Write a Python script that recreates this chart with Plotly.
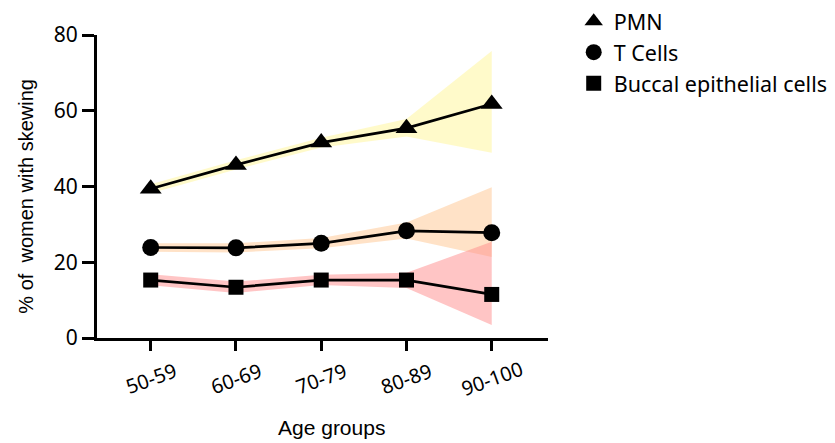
import plotly.graph_objects as go

# Age groups on the x axis
age_groups = ["50-59", "60-69", "70-79", "80-89", "90-100"]

# % of women with skewing, with lower / upper band limits per cell type
pmn = [39.4, 45.7, 51.6, 55.4, 61.8]
pmn_lo = [38.2, 44.5, 50.3, 53.2, 48.9]
pmn_hi = [40.6, 46.9, 52.9, 57.8, 75.8]

t_cells = [23.9, 23.8, 25.0, 28.3, 27.8]
t_cells_lo = [22.8, 22.6, 23.7, 26.3, 21.4]
t_cells_hi = [25.0, 25.0, 26.4, 30.5, 39.8]

buccal = [15.3, 13.4, 15.3, 15.3, 11.5]
buccal_lo = [13.9, 11.9, 14.0, 13.2, 3.4]
buccal_hi = [16.8, 14.9, 16.7, 17.2, 25.4]

y_ticks = [0, 20, 40, 60, 80]

series = [
    ("PMN", pmn, pmn_lo, pmn_hi, "triangle-up", 19, "rgba(255,245,150,0.5)"),
    ("T Cells", t_cells, t_cells_lo, t_cells_hi, "circle", 17, "rgba(255,190,130,0.45)"),
    ("Buccal epithelial cells", buccal, buccal_lo, buccal_hi, "square", 15, "rgba(255,140,140,0.5)"),
]

tick_font = dict(family="Noto Sans", size=21, color="black")
title_font = dict(family="Liberation Sans", size=21, color="black")

fig = go.Figure()

# shaded bands (lower edge, then upper edge filled down to it)
for name, vals, lo, hi, sym, size, band in series:
    fig.add_trace(go.Scatter(x=age_groups, y=lo, mode="lines", line=dict(width=0),
                             showlegend=False, hoverinfo="skip"))
    fig.add_trace(go.Scatter(x=age_groups, y=hi, mode="lines", line=dict(width=0),
                             fill="tonexty", fillcolor=band,
                             showlegend=False, hoverinfo="skip"))

# lines with markers
for i, (name, vals, lo, hi, sym, size, band) in enumerate(series):
    fig.add_trace(go.Scatter(
        x=age_groups, y=vals, name=name, mode="lines+markers",
        line=dict(color="black", width=2.7),
        marker=dict(symbol=sym, size=size, color="black"),
        showlegend=False,
    ))
    # legend entry: marker only
    fig.add_trace(go.Scatter(
        x=[None], y=[None], name=name, mode="markers",
        marker=dict(symbol=sym, size=size, color="black"),
        legendgroup=name, showlegend=True,
    ))

fig.update_xaxes(
    type="category", range=[-0.63, 4.66],
    showline=True, linecolor="black", linewidth=3,
    ticks="outside", ticklen=10, tickwidth=3, tickcolor="black",
    showticklabels=False, showgrid=False, zeroline=False,
)
fig.update_yaxes(
    range=[0, 80], tickvals=y_ticks,
    showline=True, linecolor="black", linewidth=3,
    ticks="outside", ticklen=12, tickwidth=3, tickcolor="black",
    tickfont=tick_font, showgrid=False, zeroline=False,
)

annotations = []
for g in age_groups:
    annotations.append(dict(
        x=g, xref="x", y=0, yref="paper", yshift=-40,
        text=g, textangle=-20, showarrow=False,
        font=dict(family="Noto Sans", size=20, color="black"),
        xanchor="center", yanchor="middle",
    ))
annotations.append(dict(
    x=0.521, xref="paper", y=-0.294, yref="paper",
    text="Age groups", showarrow=False, font=title_font,
    xanchor="center", yanchor="middle",
))
annotations.append(dict(
    x=-0.158, xref="paper", y=0.469, yref="paper",
    text="% of \u00a0women with skewing", textangle=-90, showarrow=False,
    font=dict(family="Liberation Sans", size=20, color="black"),
    xanchor="center", yanchor="middle",
))

fig.update_layout(
    width=835, height=443,
    margin=dict(l=97, r=287, t=35, b=105, autoexpand=False),
    paper_bgcolor="white", plot_bgcolor="white",
    annotations=annotations,
    legend=dict(
        x=1.057, y=1.113, xanchor="left", yanchor="top",
        font=dict(family="Noto Sans", size=21.5, color="black"),
        bgcolor="rgba(0,0,0,0)", tracegroupgap=0, itemwidth=30,
    ),
    showlegend=True,
)

fig.write_html("out.html")
